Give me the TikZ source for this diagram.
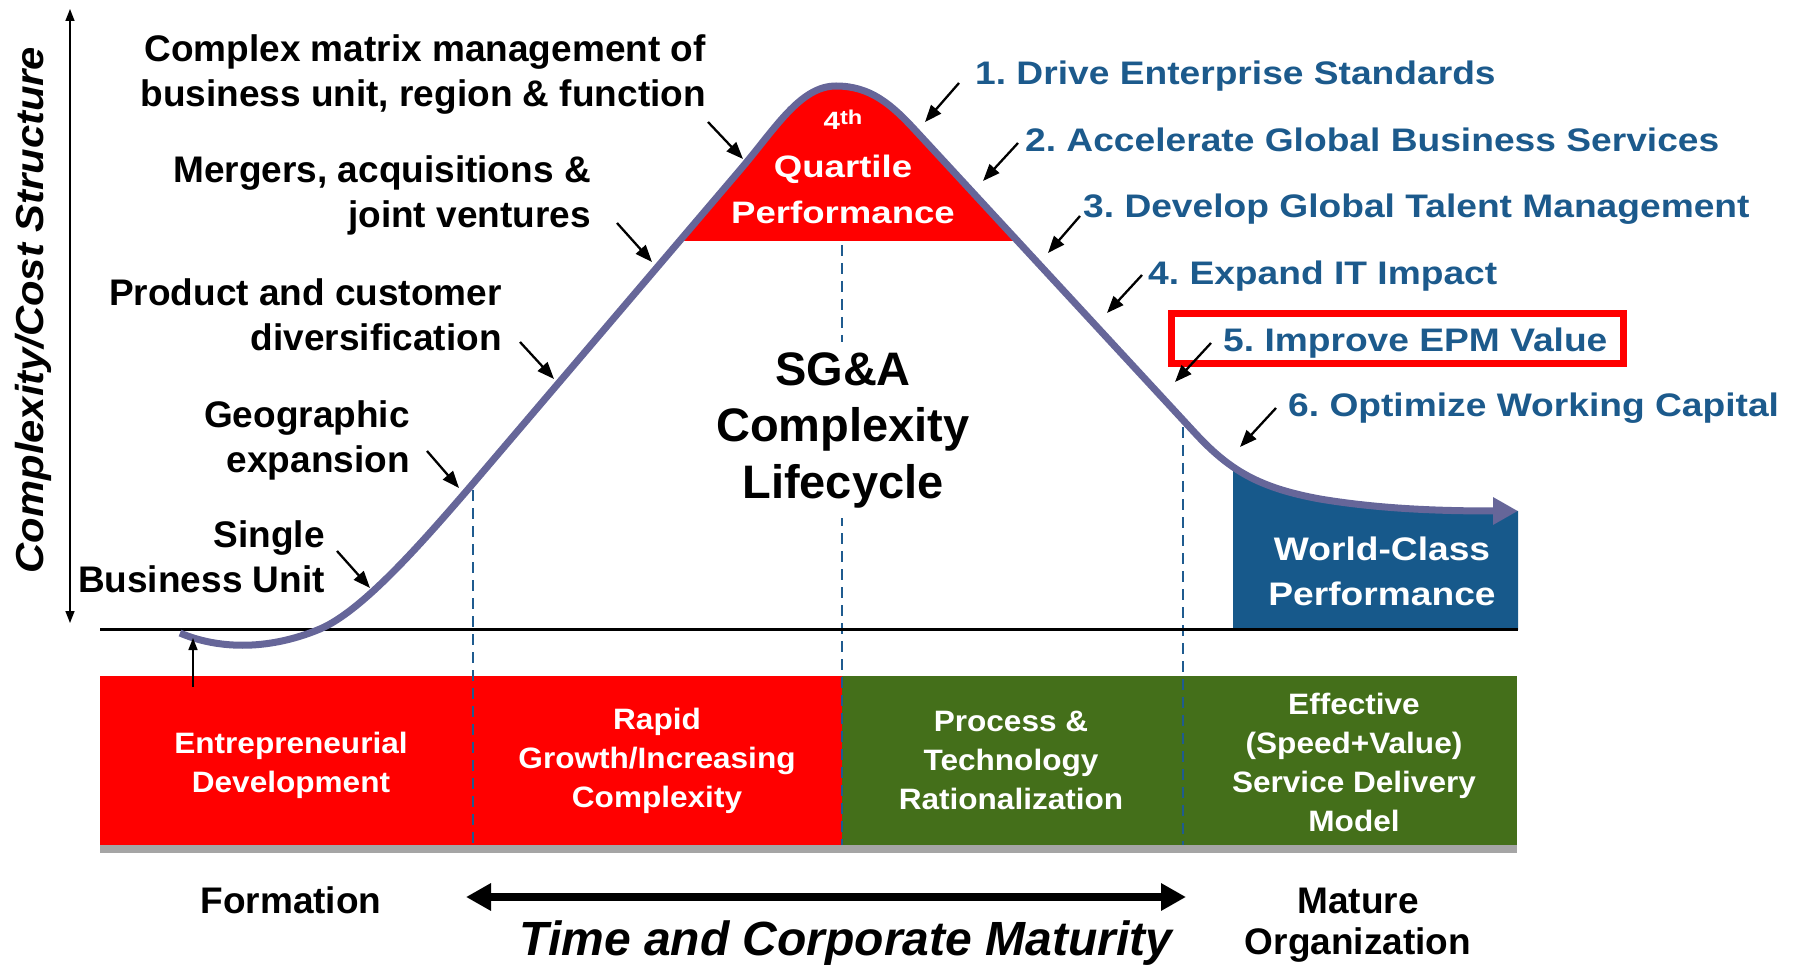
\documentclass[tikz,border=0pt]{standalone}
\usepackage{fontspec}
\usepackage{graphicx}
\setmainfont{Liberation Sans}
\frenchspacing
\newcommand\stretchA[1]{\scalebox{1.14}[1]{#1}}
\newcommand\stretchB[1]{\scalebox{1.18}[1]{#1}}
\newcommand\stretchC[1]{\scalebox{1.07}[1]{#1}}
\usetikzlibrary{arrows.meta}
\definecolor{curvecol}{RGB}{102,102,153}
\definecolor{bandred}{RGB}{255,0,0}
\definecolor{bandgreen}{RGB}{68,111,26}
\definecolor{wcblue}{RGB}{23,89,139}
\definecolor{lblblue}{RGB}{28,90,140}
\definecolor{dashblue}{RGB}{31,91,143}
\definecolor{stripgray}{RGB}{165,165,165}
\begin{document}
\begin{tikzpicture}[x=1pt,y=-1pt,
  lbl/.style={font=\fontsize{37}{45}\selectfont\bfseries, inner sep=0pt, align=right, anchor=base east},
  bluelbl/.style={font=\fontsize{32.6}{39}\selectfont\bfseries, text=lblblue, inner sep=0pt, anchor=base west},
  bandtxt/.style={font=\fontsize{29.5}{38.7}\selectfont\bfseries, text=white, align=center, anchor=base, inner sep=0pt},
  bottomtxt/.style={font=\fontsize{37}{41}\selectfont\bfseries, align=center, anchor=base, inner sep=0pt},
  pointer/.style={-{Triangle[length=17pt,width=13pt]}, line width=2.3pt, black},
  thinarrow/.style={line width=1.6pt, black},
  dashv/.style={dashblue, line width=2.8pt, dash pattern=on 11pt off 7pt},
]
\useasboundingbox (0,0) rectangle (1800,965);

% ---- bands ----
\fill[bandred] (100,676) rectangle (842,845);
\fill[bandgreen] (842,676) rectangle (1517,845);
\fill[stripgray] (100,845) rectangle (1517,853);

% ---- quartile fill ----
\begin{scope}
  \clip (0,0) rectangle (1800,241);
  \fill[bandred] (470,487) -- (740,170) .. controls (775,129) and (800,86) .. (836,86)
     .. controls (870,86) and (891,104) .. (915,130) -- (1195,433) -- cycle;
\end{scope}

% ---- world-class fill ----
\begin{scope}
  \clip (1233,0) rectangle (1518,629);
  \fill[wcblue] (1195,433) .. controls (1230,471) and (1260,488) .. (1320,499)
     .. controls (1380,509) and (1440,511) .. (1518,511) -- (1518,640) -- (1195,640) -- cycle;
\end{scope}

% ---- dashed verticals ----
\draw[dashv] (473,490) -- (473,845);
\draw[dashv] (842,245) -- (842,845);
\draw[dashv] (1183,427) -- (1183,845);

% ---- baseline ----
\coordinate (baseL) at (100,629);
\coordinate (baseR) at (1518,629);
\draw[line width=3pt] (baseL) -- (baseR);

% ---- lifecycle curve ----
\draw[curvecol, line width=7pt, line join=round, -{Triangle[length=25pt,width=26pt]}]
  (180,633) .. controls (215,648) and (265,652) .. (320,629)
  .. controls (362,611) and (420,545) .. (470,487) -- (740,170)
  .. controls (775,129) and (800,86) .. (836,86)
  .. controls (870,86) and (891,104) .. (915,130) -- (1195,433)
  .. controls (1230,471) and (1260,488) .. (1320,499)
  .. controls (1380,509) and (1440,511) .. (1518,511);

% ---- axis ----
\coordinate (axtop) at (70,9);
\coordinate (axbot) at (70,623);
\draw[thinarrow, {Triangle[length=12pt,width=9pt]}-{Triangle[length=12pt,width=9pt]}] (axtop) -- (axbot);
\node[font=\fontsize{39}{39}\selectfont\bfseries\itshape, rotate=90, anchor=base, inner sep=0pt] (ylab) at (43,310) {\stretchC{Complexity/Cost Structure}};

% ---- up arrow ----
\coordinate (upfrom) at (193,687);
\coordinate (upto) at (193,638);
\draw[thinarrow, -{Triangle[length=12pt,width=9pt]}] (upfrom) -- (upto);

% ---- center text ----
\node[font=\fontsize{47}{56.5}\selectfont\bfseries, align=center, anchor=base, fill=white, inner sep=10pt] (sga) at (843,498) {SG\&A\\Complexity\\Lifecycle};

% ---- quartile text ----
\node[font=\bfseries, text=white, anchor=base, inner sep=0pt] (q4) at (843,130) {\stretchB{\fontsize{25}{25}\selectfont 4\raisebox{5pt}{\fontsize{20}{20}\selectfont th}}};
\node[font=\fontsize{31}{46}\selectfont\bfseries, text=white, align=center, anchor=base, inner sep=0pt] (quart) at (843,224) {\stretchB{Quartile}\\\stretchB{Performance}};

% ---- world class text ----
\node[font=\fontsize{32.6}{45}\selectfont\bfseries, text=white, align=center, anchor=base, inner sep=0pt] (wc) at (1382,605) {\stretchA{World-Class}\\\stretchA{Performance}};

% ---- left labels ----
\node[lbl] (matrix) at (706,107) {Complex matrix management of\\business unit, region \& function};
\node[lbl] (mergers) at (591,228) {Mergers, acquisitions \&\\joint ventures};
\node[lbl] (product) at (502,351) {Product and customer\\diversification};
\node[lbl] (geo) at (410,472) {Geographic\\expansion};
\node[lbl] (single) at (325,592) {Single\\Business Unit};

% ---- right labels ----
\node[bluelbl] (l1) at (975,85) {\stretchA{1. Drive Enterprise Standards}};
\node[bluelbl] (l2) at (1025,152) {\stretchA{2. Accelerate Global Business Services}};
\node[bluelbl] (l3) at (1083,218) {\stretchA{3. Develop Global Talent Management}};
\node[bluelbl] (l4) at (1148,285) {\stretchA{4. Expand IT Impact}};
\node[bluelbl] (l5) at (1223,352) {\stretchA{5. Improve EPM Value}};
\node[bluelbl] (l6) at (1288,417) {\stretchA{6. Optimize Working Capital}};
\draw[bandred, line width=7pt] (1171,314) rectangle (1623,364);

% ---- pointers ----
\coordinate (t1) at (959,83);   \coordinate (h1) at (925,122);
\coordinate (t2) at (1018,143); \coordinate (h2) at (983,181);
\coordinate (t3) at (1080,216); \coordinate (h3) at (1048,253);
\coordinate (t4) at (1142,275); \coordinate (h4) at (1107,313);
\coordinate (t5) at (1211,343); \coordinate (h5) at (1175,382);
\coordinate (t6) at (1276,408); \coordinate (h6) at (1240,447);
\coordinate (tm) at (708,122);  \coordinate (hm) at (743,159);
\coordinate (tg) at (617,223);  \coordinate (hg) at (652,262);
\coordinate (tp) at (520,342);  \coordinate (hp) at (554,379);
\coordinate (te) at (427,451);  \coordinate (he) at (459,488);
\coordinate (ts) at (337,551);  \coordinate (hs) at (370,588);
\foreach \a/\b in {t1/h1,t2/h2,t3/h3,t4/h4,t5/h5,t6/h6,tm/hm,tg/hg,tp/hp,te/he,ts/hs}
  \draw[pointer] (\a) -- (\b);

% ---- band texts ----
\node[bandtxt] (ent) at (291,792) {\stretchC{Entrepreneurial}\\\stretchC{Development}};
\node[bandtxt] (rapid) at (657,807) {\stretchC{Rapid}\\\stretchC{Growth/Increasing}\\\stretchC{Complexity}};
\node[bandtxt] (proc) at (1011,809) {\stretchC{Process \&}\\\stretchC{Technology}\\\stretchC{Rationalization}};
\node[bandtxt] (eff) at (1354,831) {\stretchC{Effective}\\\stretchC{(Speed+Value)}\\\stretchC{Service Delivery}\\\stretchC{Model}};

% ---- bottom ----
\node[bottomtxt] (form) at (291,913) {Formation};
\node[bottomtxt] (mature) at (1358,954) {Mature\\Organization};
\coordinate (timeL) at (466,897);
\coordinate (timeR) at (1186,897);
\draw[line width=8pt, {Triangle[length=25pt,width=26pt]}-{Triangle[length=25pt,width=26pt]}] (timeL) -- (timeR);
\node[font=\fontsize{48}{48}\selectfont\bfseries\itshape, anchor=base, inner sep=0pt] (time) at (846,955) {Time and Corporate Maturity};
\end{tikzpicture}
\end{document}
